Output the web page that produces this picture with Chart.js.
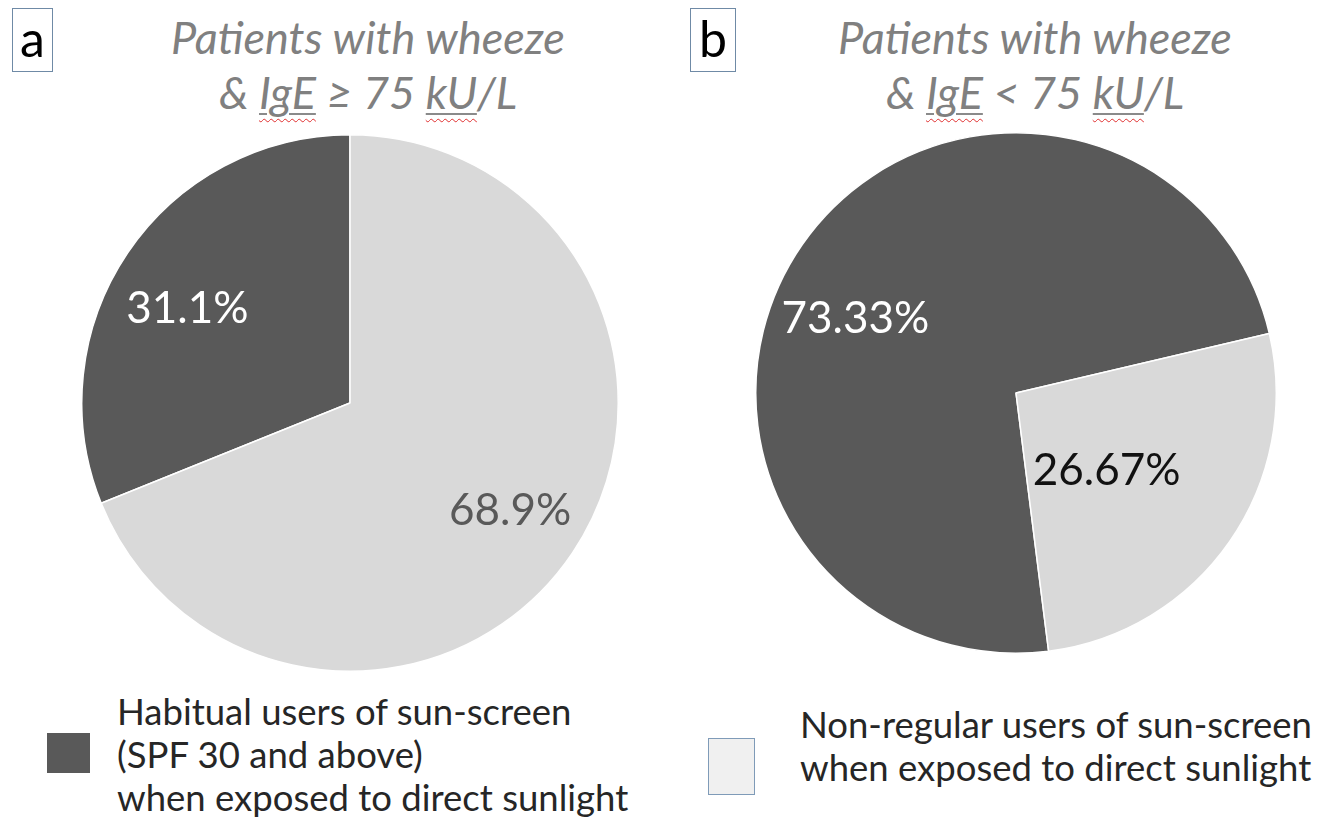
<!DOCTYPE html>
<html>
<head>
<meta charset="utf-8">
<script src="https://cdn.jsdelivr.net/npm/chart.js@4.4.0/dist/chart.umd.min.js"></script>
<style>
  body { margin: 0; background: #fff; font-family: Lato, "Open Sans", sans-serif; }
  #page { position: relative; width: 1328px; height: 830px; overflow: hidden; }
  .box { position: absolute; border: 1.5px solid #6f8aa6; color: #000; font-size: 50px; line-height: 58px; text-align: center; }
  .title { position: absolute; color: #808080; font-style: italic; font-size: 45px; line-height: 55px; text-align: center; width: 520px; }
  .u { text-decoration: underline solid #8a8a8a 1.5px; text-underline-offset: 4px; }
  .w { text-decoration: underline wavy #e03030 1px; text-underline-offset: 9px; }
  .legtext { position: absolute; color: #262626; font-size: 36.5px; line-height: 43px; white-space: nowrap; }
  .sw { position: absolute; }
  canvas { position: absolute; }
</style>
</head>
<body>
<div id="page">
  <div class="box" style="left:12px; top:8px; width:39px; height:62px;">a</div>
  <div class="box" style="left:690px; top:8px; width:44px; height:62px;">b</div>

  <div class="title" style="left:108px; top:10px;">Patients with wheeze<br>&amp; <span class="u"><span class="w">IgE</span></span> ≥ 75 <span class="u"><span class="w">kU</span></span>/L</div>
  <div class="title" style="left:775px; top:10px;">Patients with wheeze<br>&amp; <span class="u"><span class="w">IgE</span></span> &lt; 75 <span class="u"><span class="w">kU</span></span>/L</div>

  <canvas id="pieA" width="540" height="540" style="left:80px; top:133px;"></canvas>
  <canvas id="pieB" width="524" height="524" style="left:754px; top:131px;"></canvas>

  <div class="sw" id="swA" style="left:47px; top:733px; width:43px; height:40px;"></div>
  <div class="legtext" id="legA" style="left:117px; top:690px;"></div>
  <div class="sw" id="swB" style="left:708px; top:738px; width:45px; height:55px;"></div>
  <div class="legtext" id="legB" style="left:800px; top:703px;"></div>
</div>
<script>
// data
const categories = ['Habitual users of sun-screen (SPF 30 and above) when exposed to direct sunlight',
                    'Non-regular users of sun-screen when exposed to direct sunlight'];
const legendLinesA = ['Habitual users of sun-screen', '(SPF 30 and above)', 'when exposed to direct sunlight'];
const legendLinesB = ['Non-regular users of sun-screen', 'when exposed to direct sunlight'];
const valuesA = [31.1, 68.9];     // IgE >= 75 kU/L
const valuesB = [73.33, 26.67];   // IgE < 75 kU/L
const labelsA = ['31.1%', '68.9%'];
const labelsB = ['73.33%', '26.67%'];

const darkGrey = '#595959';
const lightGrey = '#d9d9d9';

document.getElementById('swA').style.background = darkGrey;
const swB = document.getElementById('swB');
swB.style.background = '#f0f0f0';
swB.style.border = '1.5px solid #7f9bb8';
document.getElementById('legA').innerHTML = legendLinesA.join('<br>');
document.getElementById('legB').innerHTML = legendLinesB.join('<br>');

// draws the percentage text inside each slice
const sliceLabels = {
    id: 'sliceLabels',
    afterDatasetsDraw(chart, args, opts) {
        const ctx = chart.ctx;
        const arcs = chart.getDatasetMeta(0).data;
        ctx.save();
        ctx.font = opts.font;
        ctx.textAlign = 'center';
        ctx.textBaseline = 'middle';
        arcs.forEach(function (arc, i) {
            const mid = (arc.startAngle + arc.endAngle) / 2 + opts.shift[i] * Math.PI / 180;
            const r = arc.outerRadius * opts.dist[i];
            ctx.fillStyle = opts.colors[i];
            ctx.fillText(opts.texts[i], arc.x + Math.cos(mid) * r, arc.y + Math.sin(mid) * r);
        });
        ctx.restore();
    }
};

function makePie(id, values, texts, rotation, labelOpts) {
    const ctx = document.getElementById(id).getContext('2d');
    return new Chart(ctx, {
        type: 'pie',
        data: {
            labels: categories,
            datasets: [{
                data: values,
                backgroundColor: [darkGrey, lightGrey],
                borderColor: '#ffffff',
                borderWidth: 1.5
            }]
        },
        options: {
            responsive: false,
            animation: false,
            rotation: rotation,
            layout: { padding: 1 },
            plugins: {
                legend: { display: false },
                tooltip: { enabled: false },
                sliceLabels: Object.assign({ texts: texts, font: '44px Lato, "Open Sans", sans-serif' }, labelOpts)
            }
        },
        plugins: [sliceLabels]
    });
}

makePie('pieA', valuesA, labelsA, -valuesA[0] * 3.6, {
    colors: ['#ffffff', darkGrey], dist: [0.70, 0.72], shift: [-4, 0]
});
makePie('pieB', valuesB, labelsB, 172.8, {
    colors: ['#ffffff', '#111111'], dist: [0.68, 0.46], shift: [-10, 6]
});
</script>
</body>
</html>
